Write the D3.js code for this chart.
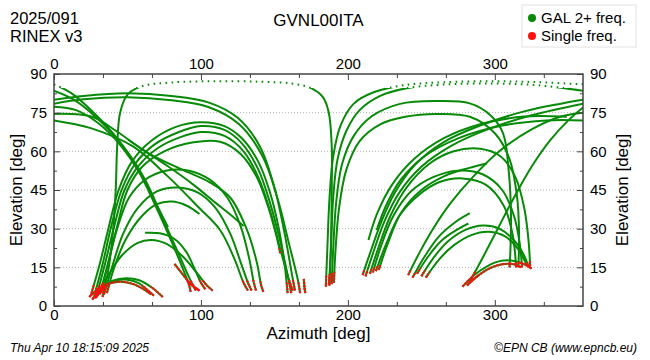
<!DOCTYPE html>
<meta charset="utf-8">
<style>
body { margin: 0; background: #fff; }
svg text { font-family: "Liberation Sans", Arial, sans-serif; fill: #000; }
</style>
<svg width="650" height="360"></svg>
<script src="https://d3js.org/d3.v7.min.js"></script>
<script>

// ---- labels / ticks ----
var station = "GVNL00ITA",
    dayLabel = "2025/091",
    rinexLabel = "RINEX v3",
    stamp = "Thu Apr 10 18:15:09 2025",
    credit = "\u00a9EPN CB (www.epncb.eu)",
    legendLabels = ["GAL 2+ freq.", "Single freq."];

var azMajor = [0, 100, 200, 300],
    azMinor = [100/3, 200/3, 400/3, 500/3, 700/3, 800/3, 1000/3],
    elMajor = [0, 15, 30, 45, 60, 75, 90],
    elMinor = [7.5, 22.5, 37.5, 52.5, 67.5, 82.5],
    elGrid = [15, 30, 45, 60, 75];

// ---- satellite tracks, [azimuth, elevation] ----
// passes entering from the north (az 0) and setting in the east / south-east
var westDescending = [
  [[0,86],[12,82.5],[27,75],[43,65],[57,53],[69,39],[80,25],[88,14],[92,8],[93,5.5]],
  [[0,83.5],[15,79.5],[30,72.5],[47,62],[62,49],[74,34],[85,20],[92,11],[96.5,6]],
  [[0,77.3],[15,76],[30,71],[45,62.5],[60,50],[70,39],[77.6,30.6]],
  [[0,74.5],[26,73.4],[43,67.6],[65,59],[88,52.7],[106,48],[120,42],[131,30],[138,17],[141,8],[142.5,5.5]],
  [[0,72],[25,69],[54,61.8],[78,50],[98,38.5],[113,29.5],[123,18],[129,9],[132,6]],
  [[0,80],[20,81.5],[50,82.5],[80,81.5],[105,79],[125,73],[140,62],[150,46],[157,28],[162,12],[164,6]],
  [[0,78.5],[20,80.2],[50,81],[80,79.8],[105,77.2],[126,70.5],[142,58],[152,42],[160,24],[166,10],[167.5,5]]
];

// low passes in the north-east
var lowArcs = [
  [[24,3.5],[30,6.5],[38,8.8],[46,9.4],[54,8.5],[61,6.5],[66,4.5]],
  [[26,2.5],[32,6.5],[40,9.8],[49,10.8],[58,10],[67,7],[74,3.5]],
  [[28,3],[34,7],[42,9.8],[50,10.2],[58,8.8],[63,6.5],[68,4]],
  [[29,3.5],[36,11],[46,19.5],[57,24.5],[66,25.6],[77,24],[88,19],[97,13],[104,8],[108,6]],
  [[62,28.4],[72,28.2],[82,26],[90,21],[96,14],[100,9],[103,6.5]],
  [[82,16.3],[88,12],[93,8.5],[99,6]],
  [[170,10.5],[170.5,7],[171,5]]
];

// passes rising in the north-east
var westRising = [
  [[25,4],[31,16],[37,30],[44,45],[53,56],[66,64],[83,69.5],[100,71.3],[116,69.8],[128,65],[139,56],[147,44],[153,30],[157,16],[158.5,8],[159,5]],
  [[27,3],[33,16],[39,31],[46,45],[55,55],[68,62.5],[85,67.5],[100,69.8],[116,68.3],[128,63],[139,53],[147,40],[154,25],[159,12],[161.5,5]],
  [[29,4],[35,17],[41,31],[48,45],[57,54],[70,61],[86,65.5],[100,67.5],[116,66],[129,60],[139,50],[147,37],[154,22],[160,10],[162.5,6]],
  [[31,4.5],[37,17],[43,31],[50,45],[60,54],[75,60],[95,63.5],[113,63.7],[127,59],[138,50],[146,38],[151,28],[154,20.5]],
  [[32,5],[37,17],[43,30],[51,42],[62,49],[76,52.5],[92,52.5],[106,49],[118,42],[127,31],[133,18],[136,9],[137.5,6]],
  [[34,4.5],[40,16],[47,28],[57,38],[70,44.5],[84,46],[98,44],[110,38],[120,28],[127,17],[132,9],[134.5,6]],
  [[36,5],[41,15],[49,26],[60,35],[70,39.5],[80,40.5],[90,39],[99,35.7]],
  [[50.5,64.5],[62,60],[78,54],[95,47],[110,40],[121,35],[129,31]],
  [[33,3.5],[37,14],[40,28],[42,45],[43,62],[45,75],[50,82],[60,85.3],[80,86.7],[110,87.2],[140,87],[162,86.3],[175,84.5],[183,81],[187,75],[189,62],[189,45],[188.5,25],[187.5,12],[187,8]]
];

// passes rising in the south
var southRising = [
  [[185,7.5],[186,22],[187.5,42],[190,58],[195,70],[204,78.5],[218,83],[239,85.7],[265,86.8],[300,87.2],[330,86.8],[360,86]],
  [[187.5,8],[188.5,22],[190,42],[193,57],[199,68],[208,76],[222,81.5],[239,84.4],[265,85.9],[300,86.3],[330,85.6],[360,83.5]],
  [[189,8.5],[190,22],[192,40],[196,55],[204,66],[216,73.5],[235.5,78.4],[260,79.5],[283,78.6],[297,74],[305.6,67],[309.5,52],[311,35],[310.5,20],[310,15]],
  [[190.5,9],[191.5,21],[194,38],[199,53],[208,64],[222,70.5],[239,73.4],[260,74.5],[283,73.4],[300,67],[310,57],[315,43],[316.5,28],[316,15]]
];

// passes rising in the south-west
var eastRising = [
  [[210,12],[216,22],[223,33],[232,44],[246,55],[265,63.5],[290,70],[320,75.5],[345,78.5],[360,80]],
  [[212,11.5],[218,22],[225,33],[235,44],[250,54],[270,62],[295,68.5],[325,74],[360,78.5]],
  [[215,12.5],[221,23],[229,35],[240,46],[255,55],[272,60],[290,61],[304,58],[314,50],[320,38],[323,25],[324,15.5]],
  [[217,13],[223,24],[231,35],[243,44.5],[258,50],[275,52.5],[292,51],[305,45],[313,35],[317,24],[318.5,15]],
  [[219,13.5],[226,24],[235,35],[248,43],[262,48],[278,49.5],[294,47],[306,39],[312,28],[314.5,15]],
  [[221,14],[227,24],[236,36],[250,45],[266,50.5],[282,53.5],[294.5,55.3]],
  [[214,25.6],[220,36],[230,47],[245,57],[265,65],[290,70.5],[320,73.5],[349,73.4]],
  [[219.6,29.5],[226,39],[236,49],[252,58],[275,65],[305,70],[335,72],[360,72]]
];

// passes rising in the west
var westLow = [
  [[241,12],[249,21],[258,30],[270,40],[285,50],[303,60],[325,68.5],[345,73.5],[360,75]],
  [[244,11],[252,19],[262,27],[273,32.5],[283,36]],
  [[247,12.5],[255,19.5],[264,25.5],[274,29.5],[282,32]],
  [[250,11.5],[258,18.5],[268,25],[280,29.5],[292,31.2],[303,30],[313,25.5],[320,19.5],[323,15]],
  [[253,11],[262,18],[272,23.5],[284,27.5],[296,28.8],[307,27],[316,22],[322,16],[325,14.5]],
  [[278,7.5],[286,12],[295,15.5],[304,17.5],[313,17.5],[320,16.2],[324,15]],
  [[281,8],[288,11.5],[296,14.5],[305,16.2],[313,16.2],[318,15]],
  [[283,9.5],[292,19],[302,30],[313,42],[325,54],[338,64.5],[350,72],[360,77]]
];

var tracks = [].concat(westDescending, lowArcs, westRising, southRising, eastRising, westLow);

// ---- drawing ----
var svg = d3.select("svg"),
    margin = {top: 74, right: 67, bottom: 54, left: 54},
    width = +svg.attr("width") - margin.left - margin.right,
    height = +svg.attr("height") - margin.top - margin.bottom;

var green = "#078a07", red = "#ff1010", dotAbove = 84.6;

var x = d3.scaleLinear().domain([0, 360]).range([0, width]),
    y = d3.scaleLinear().domain([0, 90]).range([height, 0]);

var g = svg.append("g")
    .attr("transform", "translate(" + margin.left + "," + margin.top + ")");

var defs = svg.append("defs");
defs.append("clipPath").attr("id", "plotClip").append("rect")
    .attr("width", width).attr("height", height);
defs.append("clipPath").attr("id", "lowClip").append("rect")
    .attr("y", y(dotAbove)).attr("width", width).attr("height", height - y(dotAbove));
defs.append("clipPath").attr("id", "highClip").append("rect")
    .attr("y", 0).attr("width", width).attr("height", y(dotAbove));

// grid
g.selectAll(".grid").data(elGrid).enter().append("line")
    .attr("x1", 0).attr("x2", width)
    .attr("y1", function(d) { return y(d); }).attr("y2", function(d) { return y(d); })
    .attr("stroke", "#b4b4b4").attr("stroke-width", 1).attr("stroke-dasharray", "1,2");

var line = d3.line()
    .x(function(d) { return x(d[0]); })
    .y(function(d) { return y(d[1]); })
    .curve(d3.curveCatmullRom.alpha(0.5));

var gTracks = g.append("g").attr("clip-path", "url(#plotClip)");
var gGreen = gTracks.append("g"), gRed = gTracks.append("g");

tracks.forEach(function(t) {
  var solid = gGreen.append("path")
      .attr("d", line(t))
      .attr("fill", "none").attr("stroke", green).attr("stroke-width", 2)
      .attr("clip-path", "url(#lowClip)");
  gGreen.append("path")
      .attr("d", line(t))
      .attr("fill", "none").attr("stroke", green).attr("stroke-width", 2)
      .attr("stroke-dasharray", "1.6,4.4")
      .attr("clip-path", "url(#highClip)");

  // sample the curve to find the single-frequency (low elevation) ends
  var node = solid.node(), L = node.getTotalLength(), pts = [];
  for (var l = 0; l < L; l += 1) {
    var p = node.getPointAtLength(l);
    pts.push([p.x, p.y, y.invert(p.y)]);
  }
  var pe = node.getPointAtLength(L);
  pts.push([pe.x, pe.y, y.invert(pe.y)]);

  var segs = [];
  if (d3.max(pts, function(d) { return d[2]; }) < 10) segs.push(pts);
  else {
    [pts, pts.slice().reverse()].forEach(function(arr) {
      var e0 = arr[0][2];
      if (e0 > 25) return;
      var top = e0 + (e0 < 10 ? 4 : 2);
      var k = arr.findIndex(function(d) { return d[2] > top; });
      segs.push(arr.slice(0, k < 0 ? arr.length : k + 1));
    });
  }
  segs.forEach(function(s) {
    gRed.append("path")
        .attr("d", d3.line()(s.map(function(d) { return [d[0], d[1]]; })))
        .attr("fill", "none").attr("stroke", red).attr("stroke-width", 2.2)
        .attr("stroke-dasharray", "2,1");
  });
});

// frame
g.append("rect")
    .attr("width", width).attr("height", height)
    .attr("fill", "none").attr("stroke", "#444").attr("stroke-width", 1.5);

function styleAxis(sel) {
  sel.select(".domain").remove();
  sel.attr("font-size", 15).attr("font-family", "Liberation Sans, Arial, sans-serif").attr("color", "#444");
  sel.selectAll("text").attr("fill", "#000");
}

g.append("g").attr("transform", "translate(0," + height + ")")
    .call(d3.axisBottom(x).tickValues(azMajor).tickSize(-6).tickPadding(3)).call(styleAxis);
g.append("g").attr("transform", "translate(0," + height + ")")
    .call(d3.axisBottom(x).tickValues(azMinor).tickSize(-4).tickFormat("")).call(styleAxis);
g.append("g")
    .call(d3.axisTop(x).tickValues(azMajor).tickSize(-6).tickPadding(5)).call(styleAxis);
g.append("g")
    .call(d3.axisTop(x).tickValues(azMinor).tickSize(-4).tickFormat("")).call(styleAxis);
g.append("g")
    .call(d3.axisLeft(y).tickValues(elMajor).tickSize(-6).tickPadding(7)).call(styleAxis);
g.append("g")
    .call(d3.axisLeft(y).tickValues(elMinor).tickSize(-3).tickFormat("")).call(styleAxis);
g.append("g").attr("transform", "translate(" + width + ",0)")
    .call(d3.axisRight(y).tickValues(elMajor).tickSize(-6).tickPadding(7)).call(styleAxis);
g.append("g").attr("transform", "translate(" + width + ",0)")
    .call(d3.axisRight(y).tickValues(elMinor).tickSize(-3).tickFormat("")).call(styleAxis);

// axis titles
svg.append("text")
    .attr("x", margin.left + width / 2).attr("y", 338.5)
    .attr("text-anchor", "middle").attr("font-size", 17)
    .text("Azimuth [deg]");
svg.append("text")
    .attr("transform", "translate(22," + (margin.top + height / 2) + ") rotate(-90)")
    .attr("text-anchor", "middle").attr("font-size", 17)
    .text("Elevation [deg]");
svg.append("text")
    .attr("transform", "translate(628," + (margin.top + height / 2) + ") rotate(-90)")
    .attr("text-anchor", "middle").attr("font-size", 17)
    .text("Elevation [deg]");

// header
svg.append("text").attr("x", margin.left + width / 2).attr("y", 26)
    .attr("text-anchor", "middle").attr("font-size", 17).text(station);
svg.append("text").attr("x", 10).attr("y", 23.5).attr("font-size", 16.5).text(dayLabel);
svg.append("text").attr("x", 10).attr("y", 42).attr("font-size", 16.5).text(rinexLabel);

// legend
var lg = svg.append("g");
lg.append("rect").attr("x", 522).attr("y", 5).attr("width", 114).attr("height", 42)
    .attr("fill", "#fff").attr("stroke", "#e2e2e2");
lg.selectAll("circle").data(legendLabels).enter().append("circle")
    .attr("cx", 532).attr("cy", function(d, i) { return 18 + i * 18; })
    .attr("r", 4).attr("fill", function(d, i) { return i ? red : green; });
lg.selectAll("text").data(legendLabels).enter().append("text")
    .attr("x", 541).attr("y", function(d, i) { return 23 + i * 18; })
    .attr("font-size", 15).text(function(d) { return d; });

// footer
svg.append("text").attr("x", 10).attr("y", 352)
    .attr("font-size", 12).attr("font-style", "italic").text(stamp);
svg.append("text").attr("x", 637).attr("y", 352).attr("text-anchor", "end")
    .attr("font-size", 12).attr("font-style", "italic").text(credit);

</script>
